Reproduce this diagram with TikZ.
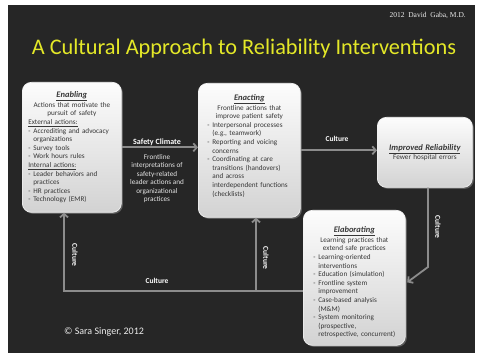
\documentclass[tikz,border=0pt]{standalone}
\usepackage{fontspec}
\setmainfont{Carlito}
\newfontfamily\gabafont{Liberation Serif}
\usetikzlibrary{arrows.meta,shadows}
\definecolor{bg}{RGB}{38,38,38}
\definecolor{ttl}{RGB}{228,232,40}
\definecolor{arrc}{RGB}{140,140,140}
\definecolor{btext}{RGB}{55,55,55}
\newcommand{\btitle}[1]{{\fontsize{8.5}{10}\selectfont\bfseries\itshape\underline{#1}}}
\newcommand{\bdash}{\makebox[5pt][l]{-}}
\newcommand{\bind}{\hspace*{5pt}}
\tikzset{
  box/.style={rounded corners=9pt, top color=white!98!gray, bottom color=gray!35,
    draw=white!90!gray, line width=0.7pt,
    drop shadow={shadow xshift=1.5pt, shadow yshift=-1.5pt, opacity=0.6},
    text=btext, font=\fontsize{7.2}{8.6}\selectfont, anchor=north west, inner ysep=2pt},
  arr/.style={draw=arrc, line width=1.8pt, -{Straight Barb[length=3.5pt,width=8pt]}},
  cult/.style={text=white, font=\fontsize{7.5}{9}\selectfont\bfseries, inner sep=0pt},
}
\begin{document}
\begin{tikzpicture}[x=1pt,y=-1pt]
\useasboundingbox (0,0) rectangle (479,355);
\fill[white] (0,0) rectangle (479,355);
\fill[bg] (8,5) rectangle (475,353);

\node[text=white!85!gray, font=\gabafont\fontsize{7.5}{9}\selectfont, anchor=east, inner sep=0pt] (gaba) at (466,15) {2012\ \ David\ \ Gaba, M.D.};
\node[text=ttl, font=\fontsize{22.3}{26}\selectfont, inner sep=0pt] (title) at (244,49) {A Cultural Approach to Reliability Interventions};

% Enabling
\node[box, text width=87pt, inner xsep=6pt, minimum height=130pt] (enab) at (22,82) {%
{\centering\btitle{Enabling}\\[1pt]
Actions that motivate the\\ pursuit of safety\par}
\underline{External actions:}\\
\bdash Accrediting and advocacy\\
\bind organizations\\
\bdash Survey tools\\
\bdash Work hours rules\\
\underline{Internal actions:}\\
\bdash Leader behaviors and\\
\bind practices\\
\bdash HR practices\\
\bdash Technology (EMR)};

% Enacting
\node[box, text width=84pt, inner xsep=9pt, minimum height=134pt] (enac) at (198,83) {%
{\centering\btitle{Enacting}\\[1pt]
Frontline actions that\\ improve patient safety\par}
\bdash Interpersonal processes\\
\bind (e.g., teamwork)\\
\bdash Reporting and voicing\\
\bind concerns\\
\bdash Coordinating at care\\
\bind transitions (handovers)\\
\bind and across\\
\bind interdependent functions\\
\bind (checklists)\rule[-10pt]{0pt}{1pt}};

% Improved reliability
\node[box, text width=89pt, inner xsep=3pt, minimum height=70pt, align=center] (impr) at (377,117) {%
\btitle{Improved Reliability}\\ Fewer hospital errors};

% Elaborating
\node[box, text width=82pt, inner xsep=10pt, minimum height=135pt] (elab) at (303,210) {%
{\centering\rule{0pt}{15pt}\btitle{Elaborating}\\[1pt]
Learning practices that\\ extend safe practices\par}
\bdash Learning-oriented\\
\bind interventions\\
\bdash Education (simulation)\\
\bdash Frontline system\\
\bind improvement\\
\bdash Case-based analysis\\
\bind (M\&M)\\
\bdash System monitoring\\
\bind (prospective,\\
\bind retrospective, concurrent)};

% Safety climate
\draw[arr] (enab.east) -- (enab.east -| enac.west);
\node[text=white, font=\fontsize{8}{9.6}\selectfont\bfseries, inner sep=0pt] (sc) at (157,142) {Safety Climate};
\node[text=white!80!gray, font=\fontsize{7.2}{8.5}\selectfont, align=center, anchor=north, inner sep=0pt] (scd) at (157,154) {Frontline\\ interpretations of\\ safety-related\\ leader actions and\\ organizational\\ practices};

% Culture arrows
\draw[arr] (enac.east) -- (enac.east -| impr.west);
\node[cult] (c1) at (337,139) {Culture};

\coordinate (k1) at (428,267);
\draw[arr] (impr.south -| k1) -- (k1) -- ([yshift=-4.5pt,xshift=1.5pt]elab.east);
\node[cult, rotate=-90] (c2) at (438,227) {Culture};

\coordinate (bl) at (64,291);
\coordinate (bm) at (256,291);
\draw[arr] (elab.west |- bl) -- (bl) -- (enab.south -| bl);
\draw[arr] (bm) -- (enac.south -| bm);
\node[cult] (c3) at (157,281) {Culture};
\node[cult, rotate=-90] (c4) at (75,255) {Culture};
\node[cult, rotate=-90] (c5) at (266,258) {Culture};

\node[text=white!85!gray, font=\fontsize{10}{12}\selectfont, anchor=west, inner sep=0pt] (copy) at (64,332) {© Sara Singer, 2012};
\end{tikzpicture}
\end{document}
